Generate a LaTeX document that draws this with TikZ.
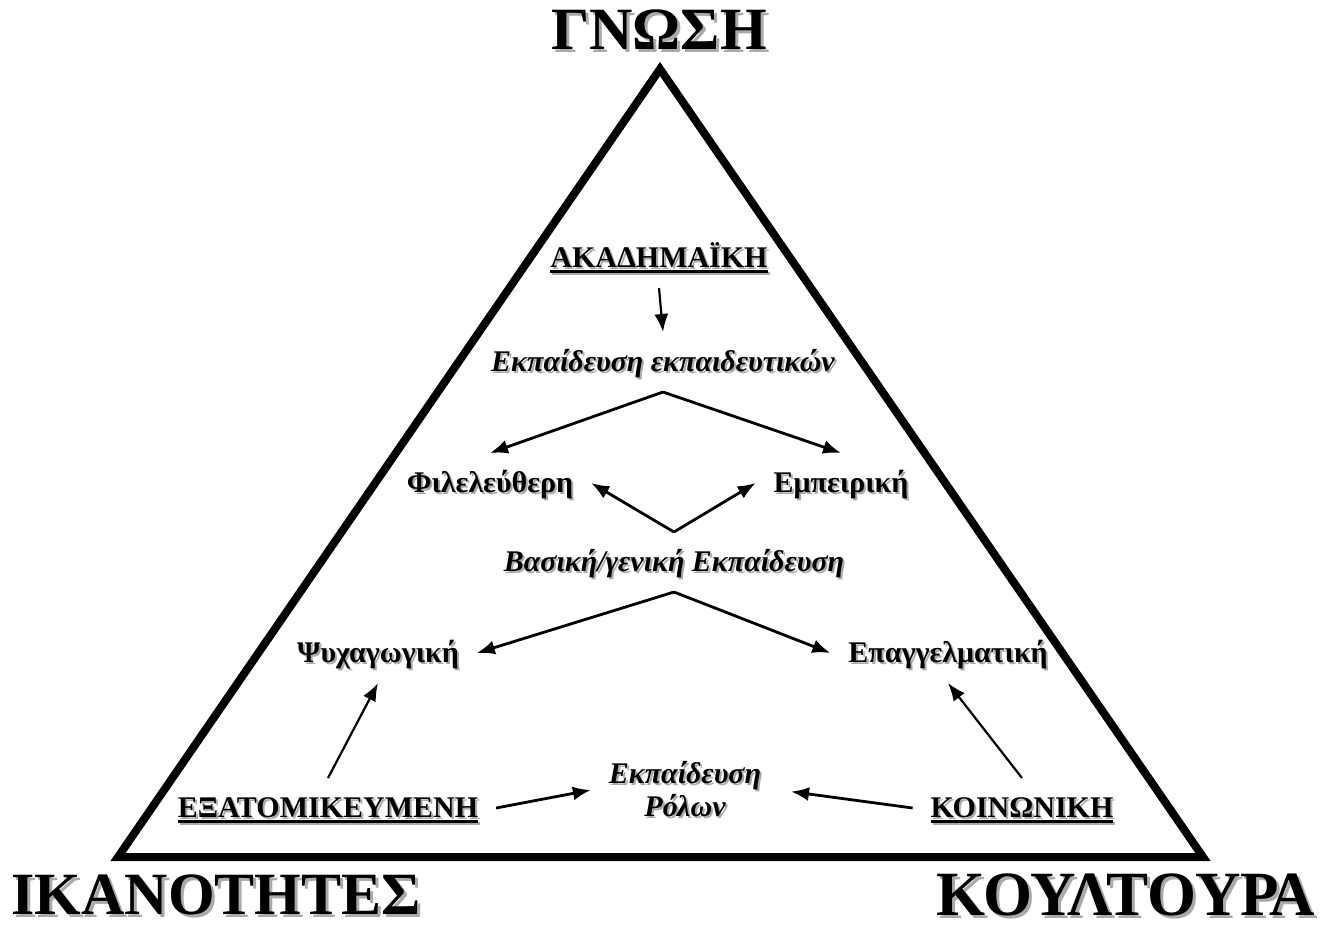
\documentclass[tikz,border=0pt]{standalone}
\usepackage{fontspec}
\setmainfont{Liberation Serif}
\usetikzlibrary{arrows.meta, positioning}
\definecolor{shade}{RGB}{170,170,170}
\newcommand{\shad}[1]{\leavevmode\rlap{\kern2pt\raisebox{-2pt}{\color{shade}#1}}#1}
\newcommand{\shadbig}[1]{\leavevmode\rlap{\kern3pt\raisebox{-3pt}{\color{shade}#1}}#1}
\newcommand{\ulin}[1]{\setbox0\hbox{#1}\rlap{\rule[-6pt]{\wd0}{3pt}}\box0}

\begin{document}
\begin{tikzpicture}[x=1pt, y=-1pt, >={Latex[length=18pt,width=14pt]},
  corner/.style={font=\fontsize{60}{62}\selectfont\bfseries, inner sep=0pt},
  lbl/.style={font=\fontsize{30}{35}\selectfont\bfseries, inner sep=0pt, outer sep=18pt, text height=21pt, text depth=3pt},
  ital/.style={lbl, font=\fontsize{30}{35}\selectfont\bfseries\itshape},
  rolebox/.style={font=\fontsize{30}{33}\selectfont\bfseries\itshape, inner sep=0pt, outer sep=18pt, align=center},
  arr/.style={->, line width=2.8pt},
  thin arr/.style={->, line width=2.2pt}]
\useasboundingbox (0,0) rectangle (1322,926);

% corners
\node[corner] (gnosi) at (659,31) {\shadbig{ΓΝΩΣΗ}};
\node[corner] (ikan) at (216,896) {\shadbig{ΙΚΑΝΟΤΗΤΕΣ}};
\node[corner, font=\fontsize{63}{65}\selectfont\bfseries] (koult) at (1126,896) {\shadbig{ΚΟΥΛΤΟΥΡΑ}};
\draw[line width=8pt, line join=miter] (660,69) -- (118,857) -- (1203,857) -- cycle;

% inner labels
\node[lbl] (akad) at (659,258) {\shad{\ulin{ΑΚΑΔΗΜΑΪΚΗ}}};
\node[ital] (ekpekp) at (663,362) {\shad{Εκπαίδευση εκπαιδευτικών}};
\node[lbl] (fil) at (490,483) {\shad{Φιλελεύθερη}};
\node[lbl] (emp) at (841,483) {\shad{Εμπειρική}};
\node[ital] (vas) at (674,562) {\shad{Βασική/γενική Εκπαίδευση}};
\node[lbl] (psy) at (378,653) {\shad{Ψυχαγωγική}};
\node[lbl] (epag) at (948,653) {\shad{Επαγγελματική}};
\node[lbl] (exat) at (328,808) {\shad{\ulin{ΕΞΑΤΟΜΙΚΕΥΜΕΝΗ}}};
\node[lbl] (koin) at (1022,808) {\shad{\ulin{ΚΟΙΝΩΝΙΚΗ}}};
\node[rolebox] (rol) at (685,790) {\shad{Εκπαίδευση}\\\shad{Ρόλων}};

% arrows
\draw[thin arr] (akad.south) -- (ekpekp.north);
\draw[arr] (ekpekp.south) -- (fil.north);
\draw[arr] (ekpekp.south) -- (emp.north);
\draw[arr] (vas.north) -- (fil.east);
\draw[arr] (vas.north) -- (emp.west);
\draw[arr] (vas.south) -- (psy.east);
\draw[arr] (vas.south) -- (epag.west);
\draw[thin arr] (exat.north) -- (psy.south);
\draw[thin arr] (koin.north) -- (epag.south);
\draw[arr] (exat.east) -- (rol.west);
\draw[arr, shorten >=12pt] (koin.west) -- (rol.east);
\end{tikzpicture}
\end{document}
